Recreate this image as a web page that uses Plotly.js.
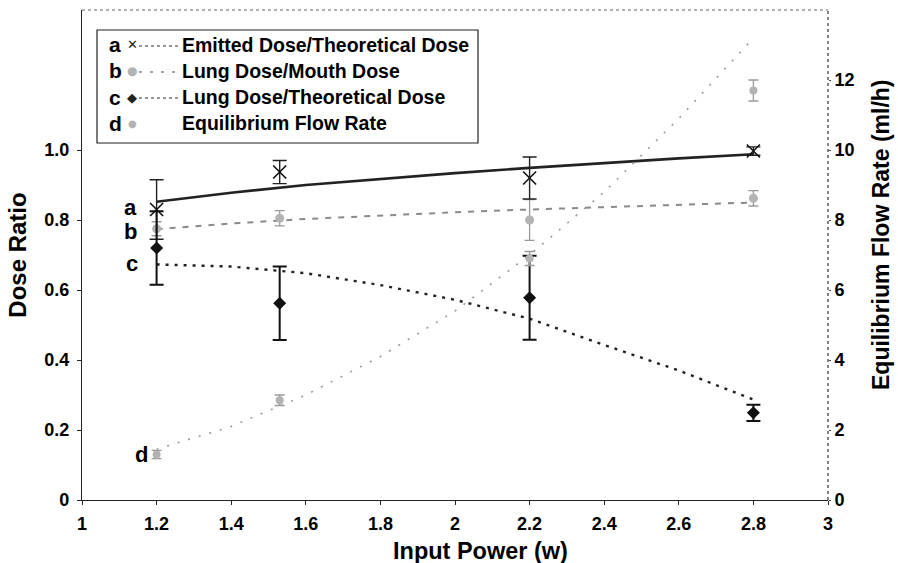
<!DOCTYPE html>
<html><head><meta charset="utf-8">
<script src="https://cdn.plot.ly/plotly-3.0.1.min.js"></script>
<style>html,body{margin:0;padding:0;background:#fff}#chart{width:898px;height:563px}</style>
</head><body><div id="chart"></div>
<script>
// measured points
const inputPower = [1.2, 1.53, 2.2, 2.8];
const emittedRatio = [0.83, 0.937, 0.92, 0.997];
const emittedErr = [0.085, 0.033, 0.06, 0.012];
const lungMouthRatio = [0.775, 0.805, 0.80, 0.862];
const lungMouthErr = [0.02, 0.022, 0.058, 0.022];
const lungTheoRatio = [0.72, 0.562, 0.578, 0.249];
const lungTheoErr = [0.105, 0.105, 0.12, 0.023];
const flowRate = [1.3, 2.85, 6.9, 11.7];
const flowErr = [0.12, 0.15, 0.2, 0.3];

// trend lines
const trendPower = [1.2, 1.4, 1.6, 1.8, 2.0, 2.2, 2.4, 2.6, 2.8];
const emittedTrend = [0.852, 0.878, 0.900, 0.918, 0.934, 0.949, 0.963, 0.976, 0.988];
const lungMouthTrend = [0.774, 0.790, 0.803, 0.813, 0.822, 0.830, 0.837, 0.844, 0.850];
const lungTheoTrend = [0.673, 0.667, 0.648, 0.614, 0.572, 0.518, 0.443, 0.370, 0.287];
const flowTrend = [1.45, 2.1, 3.0, 4.1, 5.4, 7.0, 8.8, 10.9, 13.2];

// labels
const xTickVals = [1, 1.2, 1.4, 1.6, 1.8, 2, 2.2, 2.4, 2.6, 2.8, 3];
const xTickText = ['1', '1.2', '1.4', '1.6', '1.8', '2', '2.2', '2.4', '2.6', '2.8', '3'];
const leftTickVals = [0, 0.2, 0.4, 0.6, 0.8, 1.0];
const leftTickText = ['0', '0.2', '0.4', '0.6', '0.8', '1.0'];
const rightTickVals = [0, 2, 4, 6, 8, 10, 12];
const rightTickText = ['0', '2', '4', '6', '8', '10', '12'];
const seriesNames = ['Emitted Dose/Theoretical Dose', 'Lung Dose/Mouth Dose', 'Lung Dose/Theoretical Dose', 'Equilibrium Flow Rate'];
const seriesLetters = ['a', 'b', 'c', 'd'];
const legendGlyphs = ['\u2715', '\u25CF', '\u25C6', '\u25CF'];
const xTitle = 'Input Power (w)';
const yTitle = 'Dose Ratio';
const y2Title = 'Equilibrium Flow Rate (ml/h)';

const FONT = '"Liberation Sans", Arial, sans-serif';
const bold = (s, c) => ({family: FONT, size: s, color: c || '#000', weight: 'bold'});

const styles = [
  {marker: {symbol: 'x-thin-open', size: 13, color: '#111', line: {width: 1.6, color: '#111'}},
   line: {color: '#222', width: 2.6}, glyph: {size: 13, color: '#222'}, sample: {color: '#333', dash: 'dot', width: 1.2}},
  {marker: {symbol: 'circle', size: 9, color: '#b3b3b3', line: {width: 0}},
   line: {color: '#8a8a8a', width: 2, dash: '6px,7px'}, glyph: {size: 12, color: '#b3b3b3'}, sample: {color: '#888', dash: '3px,8px', width: 1.4}},
  {marker: {symbol: 'diamond', size: 10, color: '#111', line: {width: 0}},
   line: {color: '#222', width: 2.4, dash: '3px,6px'}, glyph: {size: 13, color: '#222'}, sample: {color: '#333', dash: 'dot', width: 1.2}},
  {marker: {symbol: 'circle', size: 8, color: '#b3b3b3', line: {width: 0}},
   line: {color: '#9a9a9a', width: 1.6, dash: '2px,9px'}, glyph: {size: 10, color: '#b3b3b3'}, sample: null}
];

const traces = [];
// trend lines
traces.push({x: trendPower, y: emittedTrend, mode: 'lines', line: styles[0].line, showlegend: false, hoverinfo: 'skip'});
traces.push({x: trendPower, y: lungMouthTrend, mode: 'lines', line: styles[1].line, showlegend: false, hoverinfo: 'skip'});
traces.push({x: trendPower, y: lungTheoTrend, mode: 'lines', line: styles[2].line, showlegend: false, hoverinfo: 'skip'});
traces.push({x: trendPower, y: flowTrend, yaxis: 'y2', mode: 'lines', line: styles[3].line, showlegend: false, hoverinfo: 'skip'});
// markers with error bars
traces.push({x: inputPower, y: flowRate, yaxis: 'y2', mode: 'markers', marker: styles[3].marker, name: seriesNames[3], showlegend: false,
  error_y: {type: 'data', array: flowErr, visible: true, color: '#9a9a9a', thickness: 1.3, width: 5}});
traces.push({x: inputPower, y: lungMouthRatio, mode: 'markers', marker: styles[1].marker, name: seriesNames[1], showlegend: false,
  error_y: {type: 'data', array: lungMouthErr, visible: true, color: '#9a9a9a', thickness: 1.3, width: 5}});
traces.push({x: inputPower, y: emittedRatio, mode: 'markers', marker: styles[0].marker, name: seriesNames[0], showlegend: false,
  error_y: {type: 'data', array: emittedErr, visible: true, color: '#222', thickness: 1.4, width: 7}});
traces.push({x: inputPower, y: lungTheoRatio, mode: 'markers', marker: styles[2].marker, name: seriesNames[2], showlegend: false,
  error_y: {type: 'data', array: lungTheoErr, visible: true, color: '#111', thickness: 2, width: 7}});

const L = 82, R = 828, T = 10, B = 500, W = 898, H = 563;
const px = v => (v - L) / (R - L);
const py = v => 1 - (v - T) / (B - T);

const annotations = [];
const shapes = [
  {type: 'line', xref: 'paper', yref: 'paper', x0: 0, x1: 1, y0: 1, y1: 1, line: {color: '#666', width: 1, dash: 'dot'}},
  {type: 'line', xref: 'paper', yref: 'paper', x0: 1, x1: 1, y0: 0, y1: 1, line: {color: '#333', width: 1.2, dash: 'dot'}},
  {type: 'rect', xref: 'paper', yref: 'paper', x0: px(97), x1: px(478), y0: py(143), y1: py(30),
    line: {color: '#222', width: 1.2}, fillcolor: 'rgba(0,0,0,0)'}
];
// custom legend: letter, glyph, line sample, name
const legendRows = [45, 71, 97, 123];
legendRows.forEach((yy, i) => {
  annotations.push({xref: 'paper', yref: 'paper', x: px(115), y: py(yy), text: seriesLetters[i], showarrow: false,
    font: bold(21), xanchor: 'center', yanchor: 'middle'});
  annotations.push({xref: 'paper', yref: 'paper', x: px(132), y: py(yy), text: legendGlyphs[i], showarrow: false,
    font: {family: '"DejaVu Sans", sans-serif', size: styles[i].glyph.size, color: styles[i].glyph.color}, xanchor: 'center', yanchor: 'middle'});
  annotations.push({xref: 'paper', yref: 'paper', x: px(180), y: py(yy), text: seriesNames[i], showarrow: false,
    font: bold(19.5), xanchor: 'left', yanchor: 'middle'});
  if (styles[i].sample) {
    shapes.push({type: 'line', xref: 'paper', yref: 'paper', x0: px(139), x1: px(178), y0: py(yy + 1), y1: py(yy + 1),
      line: styles[i].sample});
  }
});
// letters next to series
const letterPos = [[1.13, 0.837], [1.13, 0.766], [1.135, 0.677], [1.16, 0.13]];
letterPos.forEach((p, i) => annotations.push({x: p[0], y: p[1], xref: 'x', yref: 'y',
  text: seriesLetters[i], showarrow: false, font: bold(22), xanchor: 'center', yanchor: 'middle'}));
// axis titles placed as in the figure
annotations.push({xref: 'paper', yref: 'paper', x: px(480), y: py(551), text: xTitle, showarrow: false,
  font: bold(23.5), xanchor: 'center', yanchor: 'middle'});
annotations.push({xref: 'paper', yref: 'paper', x: px(881), y: py(235), text: y2Title, showarrow: false,
  font: bold(23), textangle: -90, xanchor: 'center', yanchor: 'middle'});

const layout = {
  width: W, height: H,
  margin: {l: L, r: W - R, t: T, b: H - B, pad: 0},
  paper_bgcolor: '#fff', plot_bgcolor: '#fff',
  font: {family: FONT, color: '#000'},
  showlegend: false,
  xaxis: {range: [1, 3], tickvals: xTickVals, ticktext: xTickText, showgrid: false, zeroline: false,
    showline: true, linecolor: '#222', linewidth: 1.2, ticks: 'outside', ticklen: 4, tickcolor: '#222',
    tickfont: bold(18), ticklabelstandoff: 3, automargin: false},
  yaxis: {range: [0, 1.4], tickvals: leftTickVals, ticktext: leftTickText, showgrid: false, zeroline: false,
    showline: true, linecolor: '#222', linewidth: 1.2, ticks: 'outside', ticklen: 4, tickcolor: '#222',
    tickfont: bold(18), ticklabelstandoff: 4, title: {text: yTitle, font: bold(24), standoff: 10}, automargin: false},
  yaxis2: {range: [0, 14], overlaying: 'y', side: 'right', tickvals: rightTickVals, ticktext: rightTickText,
    showgrid: false, zeroline: false, showline: false, ticks: 'outside', ticklen: 2, tickcolor: '#444',
    tickfont: bold(18), automargin: false},
  shapes: shapes,
  annotations: annotations
};

Plotly.newPlot('chart', traces, layout, {staticPlot: true, displayModeBar: false});
</script>
</body></html>
